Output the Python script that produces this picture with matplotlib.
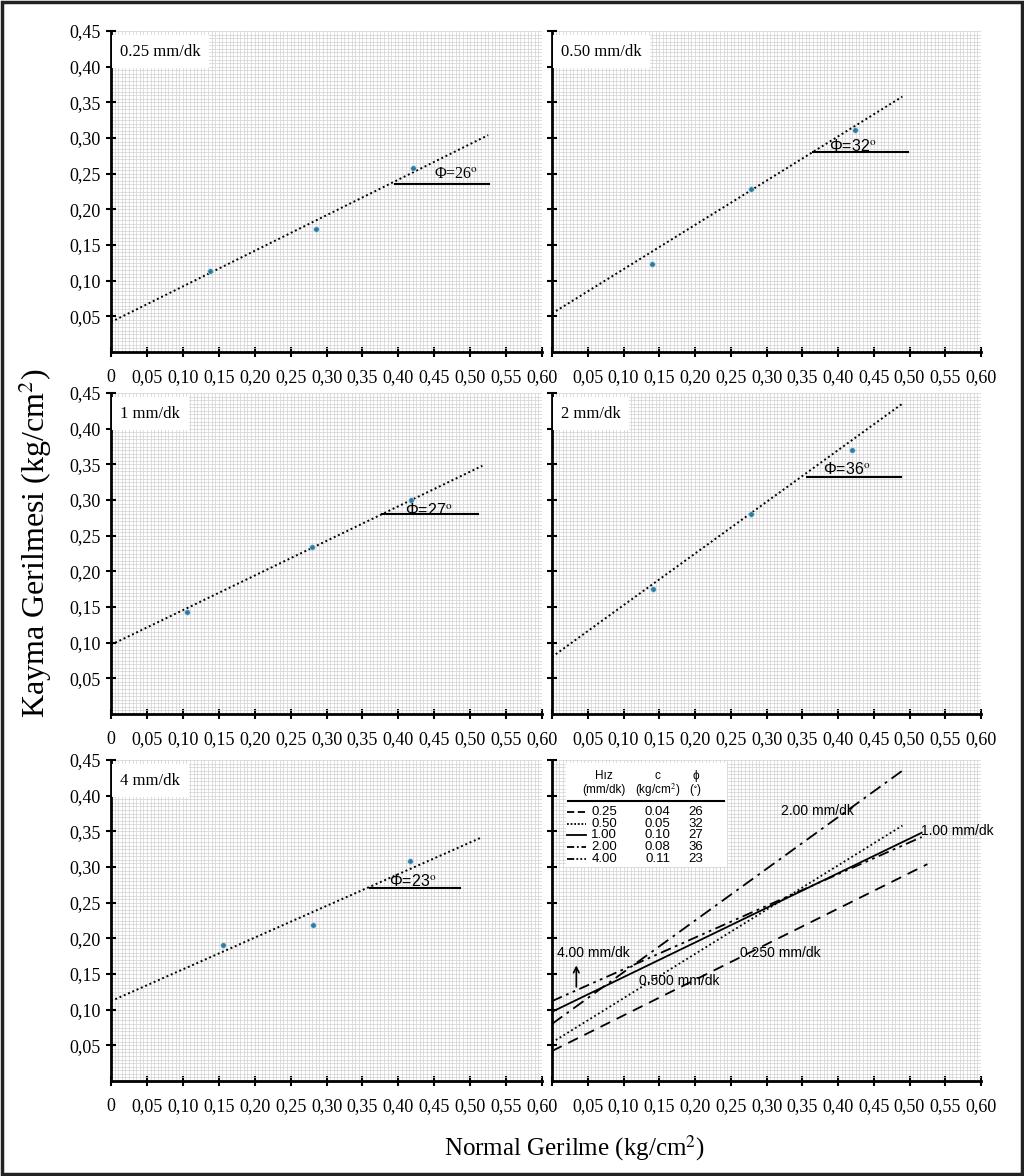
import numpy as np
import matplotlib
matplotlib.use('Agg')
import matplotlib.pyplot as plt
from matplotlib.patches import Rectangle

plt.rcParams['font.family'] = ['Liberation Serif', 'DejaVu Serif']
plt.rcParams['mathtext.fontset'] = 'stix'
SANS = ['Liberation Sans', 'DejaVu Sans']

# Datos
hiz_etiqueta = ['0.25 mm/dk', '0.50 mm/dk', '1 mm/dk', '2 mm/dk', '4 mm/dk']
normal = [[0.138, 0.285, 0.420],
          [0.140, 0.278, 0.424],
          [0.106, 0.280, 0.418],
          [0.141, 0.278, 0.419],
          [0.156, 0.281, 0.416]]
kayma = [[0.114, 0.172, 0.258],
         [0.123, 0.229, 0.311],
         [0.143, 0.234, 0.300],
         [0.175, 0.280, 0.370],
         [0.191, 0.219, 0.308]]
# dogru (fit) : y(0), x final, y final
fit_y0 = [0.042, 0.054, 0.097, 0.080, 0.112]
fit_x1 = [0.525, 0.490, 0.517, 0.490, 0.517]
fit_y1 = [0.304, 0.358, 0.348, 0.435, 0.342]
phi = [26, 32, 27, 36, 23]
phi_x0 = [0.395, 0.365, 0.377, 0.356, 0.360]
phi_x1 = [0.526, 0.498, 0.511, 0.488, 0.486]
phi_y = [0.236, 0.280, 0.280, 0.332, 0.271]

# tablo (ozet)
tablo_hiz = ['0.25', '0.50', '1.00', '2.00', '4.00']
tablo_c = ['0.04', '0.05', '0.10', '0.08', '0.11']
tablo_phi = ['26', '32', '27', '36', '23']

xticks = np.arange(0, 0.6001, 0.05)
yticks = np.arange(0.05, 0.4501, 0.05)
xlabels = ['0'] + [('%.2f' % v).replace('.', ',') for v in xticks[1:]]
ylabels = [('%.2f' % v).replace('.', ',') for v in yticks]

W, H = 1024, 1176
fig = plt.figure(figsize=(W / 100, H / 100), dpi=100)

col_left = [111 / W, 552 / W]
col_w = [431 / W, 429 / W]
row_bottom = [1 - 352 / H, 1 - 714 / H, 1 - 1081 / H]
row_h = 321 / H


def base_axes(r, c):
    ax = fig.add_axes([col_left[c], row_bottom[r], col_w[c], row_h])
    ax.set_xlim(0, 0.6)
    ax.set_ylim(0, 0.45)
    ax.set_xticks(xticks)
    if c == 0:
        ax.set_xticklabels(xlabels, fontsize=13)
        ax.set_yticks(yticks)
        ax.set_yticklabels(ylabels, fontsize=13)
    else:
        # sag sutunda "0" etiketi yok
        ax.set_xticklabels([''] + xlabels[1:], fontsize=13)
        ax.set_yticks(yticks)
        ax.set_yticklabels([])
    ax.set_xticks(np.arange(0, 0.6001, 0.005), minor=True)
    ax.set_yticks(np.arange(0, 0.4501, 0.005), minor=True)
    ax.grid(which='both', color='#d2d2d2', lw=0.5)
    ax.set_axisbelow(True)
    ax.tick_params(which='minor', length=0)
    ax.tick_params(which='major', direction='inout', length=7, width=1.5)
    ax.tick_params(axis='x', pad=9)
    ax.tick_params(axis='y', pad=4)
    for s in ['top', 'right']:
        ax.spines[s].set_visible(False)
    for s in ['left', 'bottom']:
        ax.spines[s].set_linewidth(2)
    return ax


txt_pos = [(0.480, 0.250), (0.421, 0.289), (0.442, 0.286), (0.412, 0.344), (0.420, 0.280)]

for i in range(5):
    r, c = divmod(i, 2)
    ax = base_axes(r, c)
    ax.plot([0, fit_x1[i]], [fit_y0[i], fit_y1[i]], color='black',
            ls=(0, (1, 1.4)), lw=1.4)
    ax.plot(normal[i], kayma[i], 'o', color='#2f7aa3', ms=4, mec='#bfe0f0', mew=0.5)
    ax.plot([phi_x0[i], phi_x1[i]], [phi_y[i], phi_y[i]], color='black', lw=1.5)
    fam = plt.rcParams['font.family'] if i == 0 else SANS
    ax.text(txt_pos[i][0], txt_pos[i][1], r'Φ=%d$^{\mathrm{o}}$' % phi[i],
            ha='center', va='center', fontsize=11.5, family=fam)
    ax.text(0.013, 0.421, hiz_etiqueta[i], fontsize=12, ha='left', va='center',
            bbox=dict(facecolor='white', edgecolor='none', pad=6))

# ozet paneli
ax = base_axes(2, 1)
stiller = [(0, (6, 4)), (0, (1, 1.5)), '-', (0, (7, 3, 1.5, 3)),
           (0, (6, 2.5, 1.5, 2.5, 1.5, 2.5))]
ornek = [(0, (4, 2)), (0, (1, 1)), '-', (0, (4, 1.5, 1, 1.5)),
         (0, (4, 1.2, 1, 1.2, 1, 1.2))]
for i in range(5):
    ax.plot([0, fit_x1[i]], [fit_y0[i], fit_y1[i]], color='black',
            ls=stiller[i], lw=1.3)

ax.add_patch(Rectangle((0.019, 0.300), 0.226, 0.146, facecolor='white',
                       edgecolor='none', zorder=3))
hdr = dict(family=SANS, fontsize=8.5, ha='center', va='center', zorder=4)
ax.text(0.072, 0.427, 'Hız', **hdr)
ax.text(0.072, 0.408, '(mm/dk)', **hdr)
ax.text(0.148, 0.427, 'c', **hdr)
ax.text(0.148, 0.408, '(kg/cm$^{2}$)', **hdr)
ax.text(0.201, 0.427, 'ϕ', **hdr)
ax.text(0.201, 0.408, '($^{\\circ}$)', **hdr)
ax.plot([0.023, 0.240], [0.3925, 0.3925], color='black', lw=1.5, zorder=4)
row = dict(family=SANS, fontsize=9.5, ha='center', va='center', zorder=4)
for k in range(5):
    yy = 0.377 - k * 0.0163
    ax.plot([0.0215, 0.047], [yy, yy], color='black', ls=ornek[k], lw=1.3, zorder=4)
    ax.text(0.073, yy, tablo_hiz[k], **row)
    ax.text(0.148, yy, tablo_c[k], **row)
    ax.text(0.201, yy, tablo_phi[k], **row)

lab = dict(family=SANS, fontsize=10, va='center')
ax.text(0.3706, 0.3785, '2.00 mm/dk', ha='center', **lab)
ax.text(0.516, 0.351, '1.00 mm/dk', ha='left', **lab)
ax.text(0.007, 0.180, '4.00 mm/dk', ha='left', **lab)
ax.text(0.263, 0.179, '0.250 mm/dk', ha='left', **lab)
ax.text(0.121, 0.140, '0.500 mm/dk', ha='left', **lab)
ax.annotate('', xy=(0.034, 0.166), xytext=(0.034, 0.128),
            arrowprops=dict(arrowstyle='->', color='black', lw=1.2))

fig.text(0.034, 0.538, 'Kayma Gerilmesi (kg/cm$^{2}$)', rotation=90,
         fontsize=23, ha='center', va='center')
fig.text(0.5615, 0.024, 'Normal Gerilme (kg/cm$^{2}$)', fontsize=18,
         ha='center', va='center')

fig.patches.append(Rectangle((0.002, 0.002), 0.996, 0.996, transform=fig.transFigure,
                             fill=False, edgecolor='#222222', lw=2.5))

fig.savefig('out.png', dpi=100)
